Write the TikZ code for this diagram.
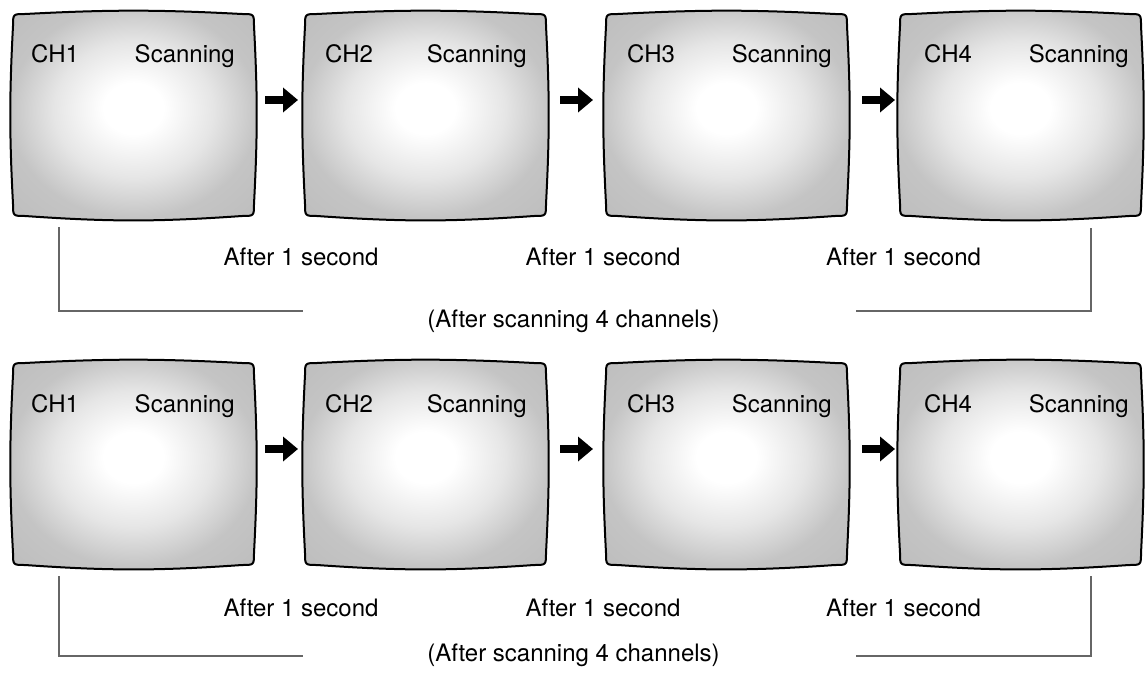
\documentclass[tikz,border=0pt]{standalone}
\usepackage{fontspec}
\setmainfont{TeX Gyre Heros}
\usetikzlibrary{arrows.meta}
\usetikzlibrary{positioning}

\pgfdeclareradialshading{tvglow}{\pgfpoint{0bp}{2bp}}{color(0bp)=(white); color(6bp)=(white); color(16bp)=(black!10); color(25bp)=(black!23); color(50bp)=(black!30)}

\tikzset{
    screen/.style={rectangle, minimum width=241pt, minimum height=202pt, inner sep=0pt, outer sep=0pt},
    caption/.style={font=\fontsize{24pt}{28pt}\selectfont, inner sep=0pt},
    steparrow/.style={line width=8pt, -{Triangle[length=15pt,width=24pt]}},
    loopline/.style={draw=black!60, line width=1.4pt}
}

% bulging monitor outline round a screen node
\newcommand{\tvframe}[1]{%
    \shade[shading=tvglow, draw=black, line width=2pt]
        ([yshift=-12pt]#1.north west) .. controls (#1.north west) .. ([xshift=12pt]#1.north west)
        to[bend left=3] ([xshift=-12pt]#1.north east) .. controls (#1.north east) .. ([yshift=-12pt]#1.north east)
        to[bend left=3] ([yshift=12pt]#1.south east) .. controls (#1.south east) .. ([xshift=-12pt]#1.south east)
        to[bend left=4] ([xshift=12pt]#1.south west) .. controls (#1.south west) .. ([yshift=12pt]#1.south west)
        to[bend left=3] ([yshift=-12pt]#1.north west) -- cycle;}

\begin{document}
\begin{tikzpicture}[x=1pt, y=-1pt]
                    \useasboundingbox (0,0) rectangle (1147,674);
                    % first round
                    \node[screen](r1m1) at (133.5,115) {};
                    \node[screen](r1m2) at (425.5,115) {};
                    \node[screen](r1m3) at (726.5,115) {};
                    \node[screen](r1m4) at (1020.5,115) {};
                    \tvframe{r1m1} \tvframe{r1m2} \tvframe{r1m3} \tvframe{r1m4}
                    \node[caption, anchor=base west](r1c1) at ([xshift=18pt, yshift=-49pt]r1m1.north west) {CH1};
                    \node[caption, anchor=base east](r1s1) at ([xshift=-19pt, yshift=-49pt]r1m1.north east) {Scanning};
                    \node[caption, anchor=base west](r1c2) at ([xshift=20pt, yshift=-49pt]r1m2.north west) {CH2};
                    \node[caption, anchor=base east](r1s2) at ([xshift=-19pt, yshift=-49pt]r1m2.north east) {Scanning};
                    \node[caption, anchor=base west](r1c3) at ([xshift=21pt, yshift=-49pt]r1m3.north west) {CH3};
                    \node[caption, anchor=base east](r1s3) at ([xshift=-15pt, yshift=-49pt]r1m3.north east) {Scanning};
                    \node[caption, anchor=base west](r1c4) at ([xshift=24pt, yshift=-49pt]r1m4.north west) {CH4};
                    \node[caption, anchor=base east](r1s4) at ([xshift=-12pt, yshift=-49pt]r1m4.north east) {Scanning};
                    \draw[steparrow, shorten <=11pt, shorten >=7pt]([yshift=15pt]r1m1.east)--([yshift=15pt]r1m2.west);
                    \draw[steparrow, shorten <=14pt, shorten >=13pt]([yshift=15pt]r1m2.east)--([yshift=15pt]r1m3.west);
                    \draw[steparrow, shorten <=15pt, shorten >=5pt]([yshift=15pt]r1m3.east)--([yshift=15pt]r1m4.west);
                    \node[caption, anchor=base](r1t1) at (301,265) {After 1 second};
                    \node[caption, anchor=base](r1t2) at (603,265) {After 1 second};
                    \node[caption, anchor=base](r1t3) at (903.5,265) {After 1 second};
                    \node[caption, anchor=base](r1note) at (573.5,327) {(After scanning 4 channels)};
                    \draw[loopline]([xshift=46pt, yshift=-11pt]r1m1.south west) |- ([xshift=-124pt, yshift=16pt]r1note.base west);
                    \draw[loopline]([xshift=-50pt, yshift=-12pt]r1m4.south east) |- ([xshift=136pt, yshift=16pt]r1note.base east);
                    % second round
                    \node[screen](r2m1) at (133.5,464) {};
                    \node[screen](r2m2) at (425.5,464) {};
                    \node[screen](r2m3) at (726.5,464) {};
                    \node[screen](r2m4) at (1020.5,464) {};
                    \tvframe{r2m1} \tvframe{r2m2} \tvframe{r2m3} \tvframe{r2m4}
                    \node[caption, anchor=base west](r2c1) at ([xshift=18pt, yshift=-49pt]r2m1.north west) {CH1};
                    \node[caption, anchor=base east](r2s1) at ([xshift=-19pt, yshift=-49pt]r2m1.north east) {Scanning};
                    \node[caption, anchor=base west](r2c2) at ([xshift=20pt, yshift=-49pt]r2m2.north west) {CH2};
                    \node[caption, anchor=base east](r2s2) at ([xshift=-19pt, yshift=-49pt]r2m2.north east) {Scanning};
                    \node[caption, anchor=base west](r2c3) at ([xshift=21pt, yshift=-49pt]r2m3.north west) {CH3};
                    \node[caption, anchor=base east](r2s3) at ([xshift=-15pt, yshift=-49pt]r2m3.north east) {Scanning};
                    \node[caption, anchor=base west](r2c4) at ([xshift=24pt, yshift=-49pt]r2m4.north west) {CH4};
                    \node[caption, anchor=base east](r2s4) at ([xshift=-12pt, yshift=-49pt]r2m4.north east) {Scanning};
                    \draw[steparrow, shorten <=11pt, shorten >=7pt]([yshift=15pt]r2m1.east)--([yshift=15pt]r2m2.west);
                    \draw[steparrow, shorten <=14pt, shorten >=13pt]([yshift=15pt]r2m2.east)--([yshift=15pt]r2m3.west);
                    \draw[steparrow, shorten <=15pt, shorten >=5pt]([yshift=15pt]r2m3.east)--([yshift=15pt]r2m4.west);
                    \node[caption, anchor=base](r2t1) at (301,616) {After 1 second};
                    \node[caption, anchor=base](r2t2) at (603,616) {After 1 second};
                    \node[caption, anchor=base](r2t3) at (903.5,616) {After 1 second};
                    \node[caption, anchor=base](r2note) at (573.5,661.5) {(After scanning 4 channels)};
                    \draw[loopline]([xshift=46pt, yshift=-11pt]r2m1.south west) |- ([xshift=-124pt, yshift=5.5pt]r2note.base west);
                    \draw[loopline]([xshift=-50pt, yshift=-11pt]r2m4.south east) |- ([xshift=136pt, yshift=5.5pt]r2note.base east);
                \end{tikzpicture}
\end{document}
